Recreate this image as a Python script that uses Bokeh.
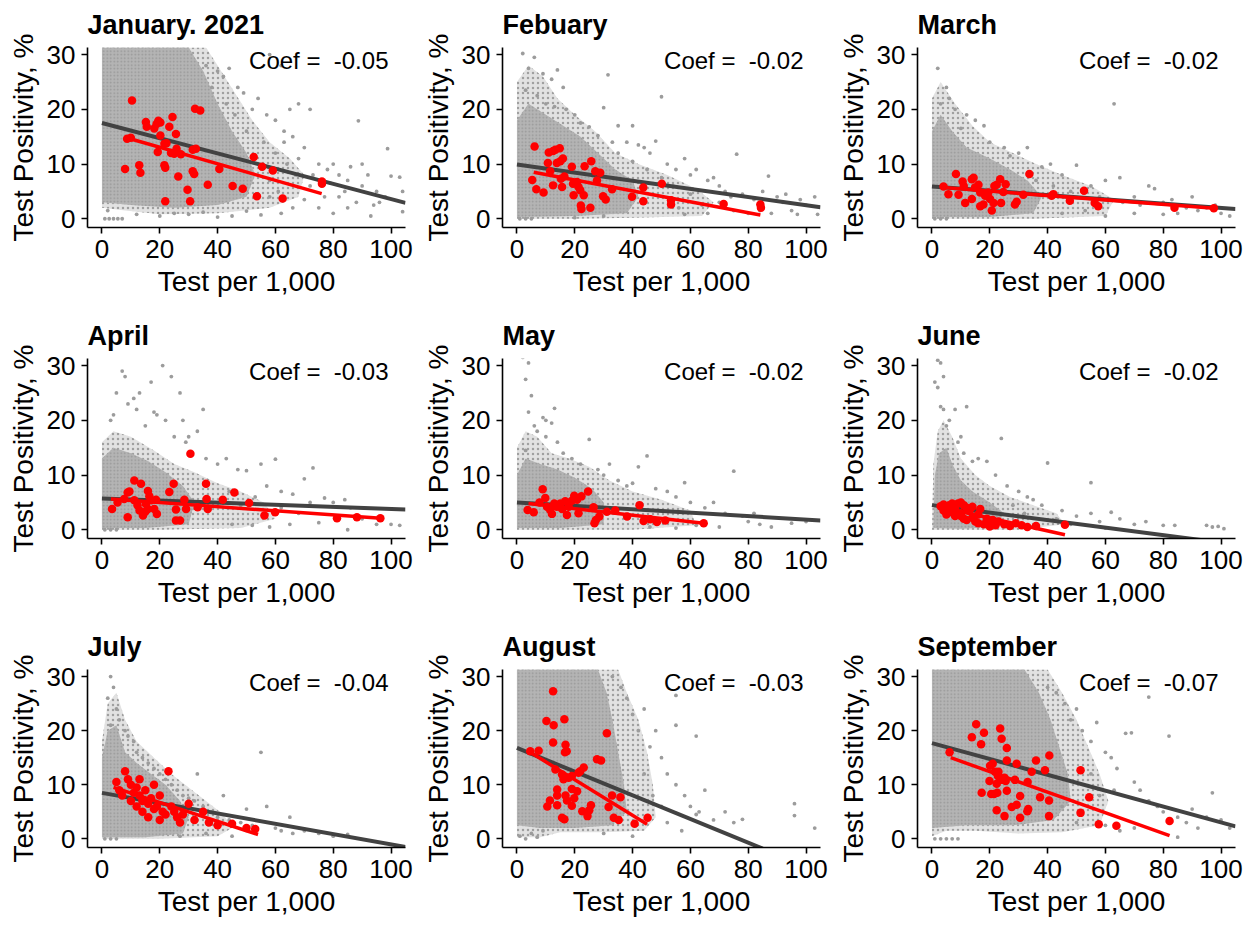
from bokeh.plotting import figure
from bokeh.layouts import gridplot
from bokeh.models import Range1d, FixedTicker, Label
from bokeh.embed import file_html
from bokeh.resources import INLINE

# ---------------- data ----------------
titles = ["January. 2021", "Febuary", "March", "April", "May", "June",
          "July", "August", "September"]
coefs = ["-0.05", "-0.02", "-0.02", "-0.03", "-0.02", "-0.02", "-0.04", "-0.03", "-0.07"]
x_ticks = [0, 20, 40, 60, 80, 100]
y_ticks = [0, 10, 20, 30]

# January
jan_red = [(10.4,21.6),(8.0,9.1),(8.7,14.6),(10.0,14.8),(12.9,9.8),(13.3,8.4),(15.2,17.7),(15.5,16.8),
           (18.1,16.5),(18.9,17.3),(19.5,17.9),(20.2,17.6),(20.2,15.2),(19.3,12.2),(21.6,13.7),(22.3,13.8),
           (21.6,9.8),(21.9,9.3),(21.9,3.2),(23.3,16.8),(24.4,18.6),(25.6,15.5),(25.8,12.8),(23.9,12.0),
           (25.0,11.9),(27.3,11.8),(26.4,7.7),(29.6,5.3),(30.5,3.2),(31.4,8.7),(31.9,8.2),(31.4,12.6),
           (32.5,12.8),(32.2,20.1),(34.0,19.8),(36.6,6.2),(40.6,9.1),(45.2,6.0),(48.7,5.5),(52.5,11.3),
           (53.6,4.1),(55.4,9.5),(59.1,8.8),(62.5,3.7),(76.1,6.4),(76.1,6.8)]
jan_grey = [(1,0),(2.5,0),(4,0),(5.5,0),(7,0),(36,28),(40,27),(42,26),(44,27.5),(47,24),(49,23),(52,20),
            (54,22),(57,19),(60,18),(63,16),(66,15),(68,21),(72,20),(65,20),(63,14),(70,13),(75,10),(78,9),
            (80,10),(82,8),(85,7),(88.7,17.9),(86,9.5),(90,6),(92,8),(95,5),(98,4),(98.8,12.8),(103,7.6),
            (104,5),(104,1.3),(93,0.5),(88,3),(85,2),(80,1),(75,2),(70,3.5),(66,2),(62,1),(58,4),(55,0.7),
            (50,1.4),(45,0.5),(40,0.3),(62,28),(58,30),(20,0.5),(30,0.8),(67,8),(72,6),(77,4),(84,5),(96,3),
            (90,10),(60,12),(56,14),(50,16),(46,19),(43,21),(38,24),(64,10),(68,11),(73,8),(58,7),(61,5),
            (12,0.8),(25,1),(35,1.2),(2,1.5),(79,6.5),(82,4),(94,2.5),(100,7.8)]
jan_halo = [(0,2),(0,31.3),(36,31.3),(40,28),(46,23),(52,18),(58,14),(65,11),(70,8),(68,4),(58,2),
            (40,1),(20,0.8),(8,1.5)]
jan_core = [(0,3),(0,31.3),(30,31.3),(35,27),(40,21),(45,16),(50,12),(53,8),(50,4),(40,2.5),(25,2),
            (10,2.5)]
jan_fit_all = [(0,17.5),(105,2.9)]
jan_fit_red = [(8.5,14.8),(76,4.6)]

# February
feb_red = [(6.1,13.2),(5.3,7.1),(6.7,5.4),(9.2,4.8),(10.7,10.2),(11.0,12.1),(12.5,12.4),(13.3,12.6),
           (14.8,12.9),(11.5,8.7),(12.5,6.1),(13.8,10.2),(15.0,10.5),(15.9,11.0),(15.2,7.3),(15.6,5.8),
           (16.4,7.7),(19.0,9.5),(19.4,6.4),(19.6,4.3),(20.8,6.7),(21.3,5.8),(21.9,5.2),(22.1,2.4),(22.3,1.8),
           (23.1,4.3),(23.4,9.6),(25.4,2.0),(25.7,10.5),(27.1,8.7),(28.8,8.4),(27.7,7.0),(29.8,4.1),(30.7,3.5),
           (32.9,5.4),(39.8,4.0),(43.7,5.7),(43.7,3.2),(50.1,6.4),(53.3,3.4),(53.3,2.6),(71.5,2.7),(84.2,2.6),
           (84.4,2.0)]
feb_grey = [(2,30.2),(6,29.5),(4,27.5),(9,26.5),(12,25.5),(14,27.2),(3,23.5),(7,22.5),(10,21),(13,20.5),
            (17,20),(20,19),(22,17.5),(25,16.8),(28,15.2),(30,20.3),(31.5,26.3),(35,17),(38,14),(42,13.5),
            (44,13),(46,12),(48,14.2),(50,22.3),(52,10),(55,9),(58,11),(60,8),(62,9),(66,7),(68,7.5),(70,6),
            (72,5),(76,11.8),(78,4.5),(82,3.5),(85,5),(87,7.8),(90,4),(93,4.5),(95,1.5),(98,3.5),(100,2.5),
            (103,4),(104,0.8),(80,1),(75,1.5),(66,1),(58,0.8),(56,2),(64,2.5),(40,17),(35,12),(16,24),(33,14),
            (40,10.5),(45,9),(50,7.5),(54,6),(60,4.5),(70,3),(74,4),(84,1.5),(88,1),(92,3),(97,0.8),(1,0),
            (3,0),(5,0),(20,0.2),(30,0.5)]
feb_halo = [(0,0),(0,25),(4,28),(9,26),(14,22),(20,19),(27,16),(34,12),(42,10),(52,8),(62,5.5),(68,3),
            (64,0.5),(40,0.2),(20,0)]
feb_core = [(0,0.3),(0,18),(4,21),(10,19),(16,17),(22,15),(28,12),(34,9),(40,7),(42,4),(38,1),(20,0.5)]
feb_fit_all = [(0,9.9),(105,2.1)]
feb_fit_red = [(5.8,8.5),(84.2,0.7)]

# March
mar_red = [(4.0,5.9),(5.7,4.5),(8.3,8.2),(10.6,6.8),(11.0,6.0),(9.2,4.4),(11.5,2.9),(13.8,3.6),(13.8,7.2),
           (14.4,7.5),(14.9,5.7),(16.1,6.2),(16.7,4.8),(16.7,2.3),(17.8,2.6),(18.4,4.2),(19.5,4.8),(20.1,3.6),
           (20.7,1.5),(21.3,2.9),(21.6,6.0),(22.4,6.2),(23.6,7.2),(23.9,2.9),(24.7,4.9),(25.5,6.3),(28.7,2.6),
           (29.3,3.1),(33.7,8.2),(31.6,4.4),(41.4,4.2),(42.0,4.5),(47.7,3.3),(52.6,5.1),(56.3,2.9),(57.5,2.3),
           (83.9,2.0),(97.5,1.9)]
mar_grey = [(2,27.5),(5,24),(3,21),(8,20),(12,19),(18,17),(10,16.5),(20,14),(25,13),(30,12),(33,13),
            (38,9.5),(41,10),(45,8),(50,9.8),(55,6),(60,7),(63,21),(65,7.5),(70,4),(75,6),(77,5.5),(80,3),
            (85,1),(90,4),(95,2),(100,1),(103,0.5),(60,0.5),(70,1),(80,0.8),(88,2),(53,1.5),(45,1),(42,6),
            (36,7),(48,5),(15,18),(6,22),(27,11.5),(58,4),(66,3),(72,2.5),(92,1.5),(98,2.5),(83,3.5),(1,0),
            (3,0),(5,0)]
mar_halo = [(0,0),(0,22),(3,25),(8,21),(14,17),(20,14),(28,12),(36,10),(45,8),(55,6),(63,3.5),(60,0.5),
            (35,0),(15,0)]
mar_core = [(0,0.3),(0,16),(3,19),(7,16),(12,13),(20,11),(27,9),(33,7),(38,4),(35,1),(20,0.3)]
mar_fit_all = [(0,5.9),(105,1.8)]
mar_fit_red = [(4.0,5.7),(97.7,1.9)]

# April
apr_red = [(3.5,3.8),(5.4,5.0),(8.9,6.8),(9.5,7.0),(8.9,2.3),(7.7,5.6),(11.2,9.0),(13.5,8.4),(12.3,4.5),
           (11.2,5.4),(13.0,3.5),(14.2,2.6),(15.0,3.3),(15.9,3.8),(15.9,7.1),(16.4,6.1),(17.0,5.4),(18.7,5.5),
           (19.0,2.9),(18.1,3.8),(15.2,4.7),(23.3,6.9),(24.8,8.4),(25.6,3.7),(25.6,1.7),(27.0,1.7),(28.5,5.5),
           (29.1,3.8),(30.6,13.9),(33.1,4.1),(36.0,8.4),(36.2,5.6),(36.6,3.8),(41.8,5.5),(45.8,6.8),(50.9,4.9),
           (56.2,2.6),(59.9,3.2),(81.3,2.1),(88.2,2.3),(96.3,2.1)]
apr_grey = [(7,29),(8,28),(11,24),(13,25),(5,25),(4,21),(9,23),(3,20),(18,21.5),(19,21),(21,30),(24,28),
            (22,20),(27,25),(17,27),(12,22),(15,19),(28,20),(30,17),(33,18),(35,22),(29,16),(25,17),(36,13),
            (40,12),(43,13),(47,11),(50,10.8),(55,12),(60,12.9),(62,7),(66,6.5),(70,9.3),(73,11.3),(72,5),
            (77,5.8),(80,5),(84,5.5),(86,4),(90,2),(95,1),(100,1),(103,0.8),(85,0),(75,1.3),(65,1),(58,0.5),
            (52,0.8),(45,1),(68,3),(62,4),(53,6),(57,8),(48,4.5),(44,7),(1,0),(3,0),(5,0)]
apr_halo = [(0,0),(0,16),(4,18),(10,17),(18,14.5),(25,12),(32,10.5),(40,8.5),(48,7),(56,5),(60,2),
            (48,0.3),(20,0)]
apr_core = [(0,0.3),(0,13),(4,15),(10,14),(16,12.5),(22,10.5),(28,8),(32,5),(30,1),(15,0.3)]
apr_fit_all = [(0,5.7),(105,3.7)]
apr_fit_red = [(3.1,5.6),(96.5,2.1)]

# May
may_red = [(3.7,3.6),(5.8,3.2),(7.8,5.0),(8.9,7.4),(9.8,5.8),(10.4,4.2),(11.5,3.6),(12.1,2.9),(12.9,4.8),
           (13.8,4.2),(15.0,4.8),(15.6,3.8),(16.7,5.2),(17.3,2.7),(17.9,4.2),(19.0,5.3),(19.8,6.2),(20.8,5.5),
           (21.3,3.0),(22.3,6.1),(24.6,7.0),(26.5,4.1),(26.8,1.2),(27.3,1.8),(28.5,2.4),(31.1,3.3),(34.0,3.5),
           (38.1,2.4),(42.4,4.5),(43.8,1.6),(46.1,1.9),(48.4,1.4),(51.3,1.7),(64.6,1.2)]
may_grey = [(2,31.5),(4,30.5),(3,27.5),(5,24.5),(4,21.5),(6,19),(9,20.5),(10,20),(13,22.2),(12,19.5),
            (7,18),(10,17),(14,16),(3,14.5),(16,14),(19,13),(22,12),(25,16.5),(28,11),(32,12),(30,10),(35,9),
            (38,8),(40,8.5),(42,11.5),(45,13.5),(48,7.5),(52,7),(55,6),(58,8.6),(60,5),(65,4),(68,5),(72,3),
            (75,10.7),(78,2.5),(80,1.5),(84,1),(88,0.5),(95,1.2),(100,1.5),(70,0.5),(62,0.8),(55,0.3),(46,0.5),
            (82,3)]
may_halo = [(0,0),(0,15),(3,18),(7,17),(12,14),(18,13),(25,11.5),(32,9),(40,7),(50,5.5),(60,3.5),(62,0.8),
            (40,0),(15,0)]
may_core = [(0,0.3),(0,10),(3,13),(8,12),(14,11),(20,9.5),(26,7.5),(30,5),(30,1),(15,0.3)]
may_fit_all = [(0,5.0),(105,1.7)]
may_fit_red = [(4.0,4.8),(64.6,1.2)]

# June
jun_red = [(3,4.3),(4,3.5),(5,4.0),(5,2.8),(6,4.5),(7,3.2),(8,2.5),(9,4.8),(10,5.0),(10,3.0),(11,2.0),
           (12,4.0),(13,3.5),(14,2.2),(15,1.5),(16,2.8),(16.7,3.8),(18,1.0),(19,2.0),(20,1.2),(21,1.8),
           (22,0.8),(23,1.5),(25,1.0),(27,0.7),(29,1.2),(31,0.8),(33,0.5),(36,0.7),(46,0.9),(12,1.8),(8,3.8),
           (6,3.5),(14,4.2),(16,1.2),(10,2.5),(20,0.6),(4,4.6),(7,4.8),(11,4.5)]
jun_grey = [(2,31),(3,30.5),(4,28),(1,27),(2,26),(3,22.5),(4,22),(5,19),(6,20),(8,22),(10,17),(12,22.5),
            (9,16),(11,14),(14,12.5),(16,13),(19,12.5),(22,10),(24,16.7),(26,8),(30,7),(33,6),(35,5.5),
            (40,12.2),(38,4.5),(43,2),(45,3.5),(50,2.5),(55,8.6),(55,3),(58,1.5),(62,3.2),(65,2),(70,1),
            (74,1.5),(80,0.8),(84,0.8),(95,0.8),(97,0.5),(99,0.6),(101,0.2),(32,3),(28,4.5),(48,1),(60,0.3)]
jun_halo = [(0,0),(0.5,12),(2,18),(4,20),(7,17),(10,13),(15,10),(20,8),(27,6),(35,4.5),(43,3),(46,1),
            (30,0),(10,0)]
jun_core = [(0.5,0.3),(1,10),(2.5,14),(5,15),(7,12),(10,9),(14,7),(20,5),(25,3),(22,0.5),(10,0.2)]
jun_fit_all = [(0,4.5),(105,-2.7)]
jun_fit_red = [(2.3,4.2),(46,-0.9)]

# July
jul_red = [(5,10.5),(6,9),(8,12.5),(9,11),(10,10),(11,8.5),(12,9.5),(13,8),(14,7),(15,9),(16,6.5),
           (17,7.5),(18,5.5),(19,6),(20,8),(21,5),(22,4.5),(23,12.5),(24,6),(25,5),(26,4),(28,4.5),(30,6.5),
           (32,3.5),(35,5),(37,3),(40,2.5),(45,2.8),(50,2),(53,1.8),(12,6),(14,5),(10,7),(16,4),(20,3.5),
           (18,10),(13,11),(7,8),(27,3)]
jul_grey = [(3,30),(4,28),(2,26),(5,24),(6,22),(8,20),(9,19),(11,18),(3,21),(12,16),(14,15),(16,14),
            (18,13),(20,12),(22,11),(24,10),(26,9),(28,8),(30,7.5),(32,7),(35,6),(38,5),(40,4),(44,3.5),
            (48,3),(52,2.5),(55,16),(57,6),(60,2),(62,1.5),(66,1),(70,1.5),(75,1),(80,0.5),(85,0.8),(45,0.5),
            (36,1),(27,0.5),(42,8),(50,5.5),(65,4),(33,12),(1,0),(3,0),(5,0)]
jul_halo = [(0,0),(0,18),(2,25),(5,27),(8,22),(12,18),(18,15),(24,12),(30,9.5),(36,7),(42,4.5),(45,2),
            (40,0.5),(20,0)]
jul_core = [(0,0.3),(0,15),(2,20),(5,21),(8,16),(12,14),(17,12),(22,10),(27,7),(30,4),(28,1),(15,0.3)]
jul_fit_all = [(0,8.5),(105,-1.5)]
jul_fit_red = [(4.0,9.5),(54,0.8)]

# August
aug_red = [(4.6,16.2),(7.5,16.3),(12.5,27.3),(10.2,21.8),(12.7,21.0),(16.4,22.1),(12.5,17.8),(16.8,17.4),
           (17.2,16.2),(16.6,16.0),(13.3,12.8),(15.6,11.9),(16.1,11.0),(17.9,11.3),(19.0,11.6),(21.9,12.5),
           (23.1,13.2),(21.3,12.2),(10.5,6.0),(11.4,7.1),(13.9,9.1),(13.9,8.0),(13.9,6.2),(15.6,3.9),
           (16.4,3.6),(16.8,8.0),(17.3,7.1),(19.0,9.2),(19.8,7.5),(19.0,6.1),(20.8,8.8),(22.6,5.1),(24.4,4.2),
           (25.6,6.2),(25.0,5.3),(27.7,14.7),(29.1,14.5),(31.1,19.5),(31.7,5.9),(32.9,8.0),(35.8,7.7),
           (33.5,3.9),(35.2,3.5),(40.7,2.8),(45.2,3.9)]
aug_grey = [(33,30),(36,28),(38,26),(40,23),(44,24),(42,20),(46,17),(48,20),(50,15),(55,21),(52,12),
            (55,10),(58,8),(60,6),(62,4.5),(63,5),(65,9),(68,3.5),(72,5),(75,3),(78,3.6),(62,19),(55,26.5),
            (44,12),(47,8),(50,6),(96,6.5),(96,4.3),(103,2),(57,1.5),(40,0.5),(30,1),(52,3),(1,0.5),(3,0),
            (5,1),(7,0.3),(9,1.5)]
aug_halo = [(0,0.3),(0,31.3),(35,31.3),(38,27),(42,22),(45,16),(47,10),(48,4),(44,1.5),(30,1.2),
            (15,1.2),(8,0.3)]
aug_core = [(0,2.5),(0,31.3),(28,31.3),(31,27),(33,22),(35,16),(37,10),(38,5),(33,2.5),(20,2),(8,2)]
aug_fit_all = [(0,16.8),(85,-1.8)]
aug_fit_red = [(4.0,16.2),(45,2.7)]

# September
sep_red = [(6.1,16.0),(13.8,18.8),(15.3,21.2),(18.0,19.6),(17.0,17.5),(17.2,8.5),(20.1,13.5),(21.0,13.9),
           (19.9,10.7),(20.5,8.3),(21.5,8.3),(22.6,8.5),(21.8,12.4),(23.0,12.4),(22.8,11.6),(22.4,10.2),
           (23.6,20.4),(24.1,18.5),(24.1,10.9),(25.1,11.3),(25.5,10.7),(22.4,5.3),(25.1,4.2),(25.9,16.8),
           (25.9,14.5),(25.9,8.9),(27.6,5.9),(29.3,6.3),(29.3,13.9),(28.7,10.9),(30.5,7.9),(30.5,3.9),
           (33.1,10.5),(33.0,5.1),(33.3,5.5),(34.5,12.4),(36.0,14.5),(37.4,7.7),(39.1,12.7),(40.5,7.1),
           (40.5,4.2),(40.6,15.4),(51.4,12.7),(51.4,4.8),(54.4,7.7),(57.7,2.7),(63.8,2.4),(82.2,3.3)]
sep_grey = [(40,28),(43,27),(46,25),(48,22),(50,24),(52,20),(55,18),(57,21.5),(60,16),(62,15),(64,13),
            (67,19.5),(69,19.6),(70,10.5),(72,9),(75,26.2),(75,7),(78,6),(80,5),(82,19),(85,4),(88,3),
            (90,5.5),(92,2),(95,4),(97,8.5),(100,3.5),(103,2),(65,1.5),(60,2.5),(70,2),(85,0.3),(58,8),(63,9),
            (55,12),(45,6),(50,3),(1,0),(3,0),(5,0),(7,0),(9,0)]
sep_halo = [(0,0.5),(0,31.3),(40,31.3),(45,27),(50,22),(54,17),(58,12),(61,7),(58,2.5),(45,1.2),(30,1),
            (15,1.5),(5,1.5)]
sep_core = [(0,2),(0,31.3),(32,31.3),(37,27),(41,22),(44,17),(47,12),(48,7),(42,3.5),(28,2.5),(12,2.5)]
sep_fit_all = [(0,17.7),(105,2.3)]
sep_fit_red = [(6.5,15.0),(82.2,0.6)]

panels = [
    (jan_red, jan_grey, jan_halo, jan_core, jan_fit_all, jan_fit_red),
    (feb_red, feb_grey, feb_halo, feb_core, feb_fit_all, feb_fit_red),
    (mar_red, mar_grey, mar_halo, mar_core, mar_fit_all, mar_fit_red),
    (apr_red, apr_grey, apr_halo, apr_core, apr_fit_all, apr_fit_red),
    (may_red, may_grey, may_halo, may_core, may_fit_all, may_fit_red),
    (jun_red, jun_grey, jun_halo, jun_core, jun_fit_all, jun_fit_red),
    (jul_red, jul_grey, jul_halo, jul_core, jul_fit_all, jul_fit_red),
    (aug_red, aug_grey, aug_halo, aug_core, aug_fit_all, aug_fit_red),
    (sep_red, sep_grey, sep_halo, sep_core, sep_fit_all, sep_fit_red),
]

# ---------------- drawing ----------------
FONT = "Liberation Sans"
GREY_PT = "#9c9c9c"


def xs(pts):
    return [p[0] for p in pts]


def ys(pts):
    return [p[1] for p in pts]


def make_panel(i):
    red, grey, halo, core, fit_all, fit_red = panels[i]
    last_row = i >= 6
    p = figure(width=415, height=297 if last_row else 311,
               x_range=Range1d(-5, 105), y_range=Range1d(-1.6, 31.3),
               output_backend="svg", toolbar_location=None, tools="",
               min_border_left=87, min_border_right=10, min_border_top=47,
               min_border_bottom=70 if last_row else 84,
               title=titles[i])
    p.outline_line_color = None
    p.xgrid.visible = False
    p.ygrid.visible = False
    p.background_fill_color = "white"
    p.border_fill_color = "white"

    p.title.text_font = FONT
    p.title.text_font_size = "27px"
    p.title.text_font_style = "bold"
    p.title.text_color = "black"
    p.title.align = "left"
    p.title.offset = 0
    p.title.standoff = 15

    p.xaxis.ticker = FixedTicker(ticks=x_ticks)
    p.yaxis.ticker = FixedTicker(ticks=y_ticks)
    p.xaxis.axis_label = "Test per 1,000"
    p.yaxis.axis_label = "Test Positivity, %"
    for ax in (p.xaxis[0], p.yaxis[0]):
        ax.axis_line_color = "black"
        ax.axis_line_width = 1.6
        ax.major_tick_line_color = "black"
        ax.major_tick_line_width = 1.6
        ax.major_tick_in = 0
        ax.major_tick_out = 6
        ax.minor_tick_line_color = None
        ax.major_label_text_font = FONT
        ax.major_label_text_font_size = "26px"
        ax.major_label_text_color = "black"
        ax.major_label_standoff = 6
        ax.axis_label_text_font = FONT
        ax.axis_label_text_font_size = "28px"
        ax.axis_label_text_font_style = "normal"
        ax.axis_label_text_color = "black"
        ax.axis_label_standoff = 5

    # the county cloud: medium-density and dense zones (dotted), plus scattered counties
    p.patch(xs(halo), ys(halo), fill_color="#e2e2e2", line_color=None,
            hatch_pattern="dot", hatch_color="#a0a0a0", hatch_scale=5, hatch_weight=1.5)
    p.patch(xs(core), ys(core), fill_color="#b4b4b4", line_color=None,
            hatch_pattern="dot", hatch_color="#969696", hatch_scale=3.5, hatch_weight=1.5)
    p.scatter(xs(grey), ys(grey), size=3.8, color=GREY_PT, line_color=None)
    # all-county fit
    p.line(xs(fit_all), ys(fit_all), line_color="#424242", line_width=4)
    # highlighted counties and their fit
    p.scatter(xs(red), ys(red), size=8.5, color="#ff0000", line_color=None)
    p.line(xs(fit_red), ys(fit_red), line_color="#ff0000", line_width=3.5)

    p.add_layout(Label(x=75, y=28.9, text="Coef = \u00a0" + coefs[i], text_align="center",
                       text_baseline="middle", text_font=FONT, text_font_size="24px",
                       text_color="black"))
    return p


figs = [make_panel(i) for i in range(9)]
grid = gridplot([figs[0:3], figs[3:6], figs[6:9]], toolbar_location=None)

open("out.html", "w").write(file_html(grid, INLINE))
